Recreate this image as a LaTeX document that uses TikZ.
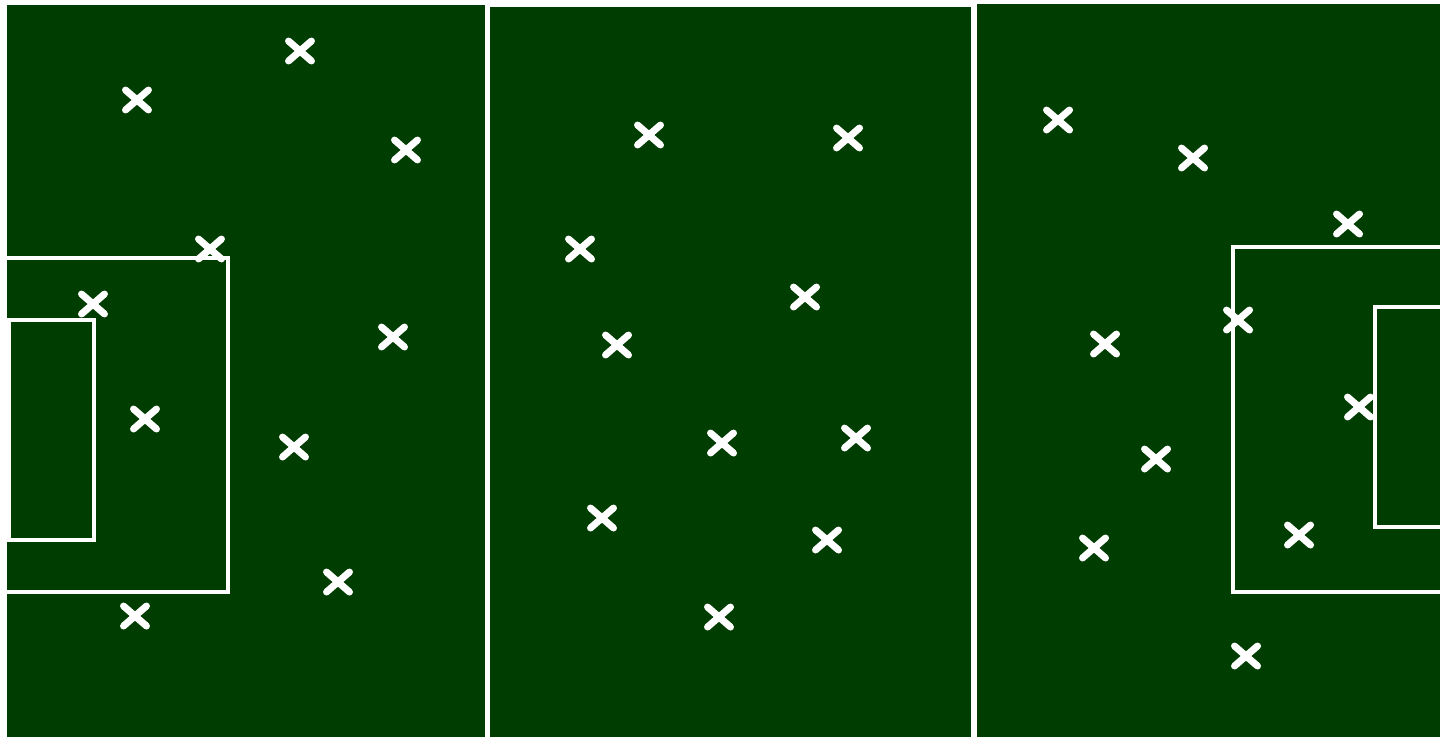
\documentclass[tikz,border=0pt]{standalone}
\definecolor{pitch}{RGB}{0,61,0}
\tikzset{
  panel/.style={fill=pitch, draw=none},
  markline/.style={draw=white, line width=4pt},
  crossmark/.pic={\draw[white, line width=7pt, line cap=round] (-11.5,-10) -- (11.5,10) (-11.5,10) -- (11.5,-10);}
}
\begin{document}
\begin{tikzpicture}[x=1pt,y=-1pt]
\useasboundingbox (0,0) rectangle (1440,737);
\fill[white] (0,0) rectangle (1440,737);
% panels
\path[panel] (7,5) rectangle (485,737);
\path[panel] (490,7) rectangle (971,737);
\path[panel] (977,4) rectangle (1440,737);
% left penalty area
\draw[markline] (7,258) -- (228,258) -- (228,592) -- (7,592);
\draw[markline] (9,320) rectangle (94,540);
% right penalty area
\draw[markline] (1441,247) -- (1233,247) -- (1233,592) -- (1441,592);
\draw[markline] (1441,307) -- (1375,307) -- (1375,527) -- (1441,527);
% crosses
\foreach \p in {(300,51),(137,100),(406,150),(210,249),(93,304),(393,337),(145,419),(294,447),(338,582),(135,616),
                (649,135),(848,138),(580,249),(805,297),(617,345),(722,443),(856,438),(602,518),(827,540),(719,617),
                (1058,120),(1193,158),(1348,224),(1238,320),(1105,344),(1359,407),(1156,459),(1299,535),(1094,548),(1246,656)}
  \pic at \p {crossmark};
\end{tikzpicture}
\end{document}
